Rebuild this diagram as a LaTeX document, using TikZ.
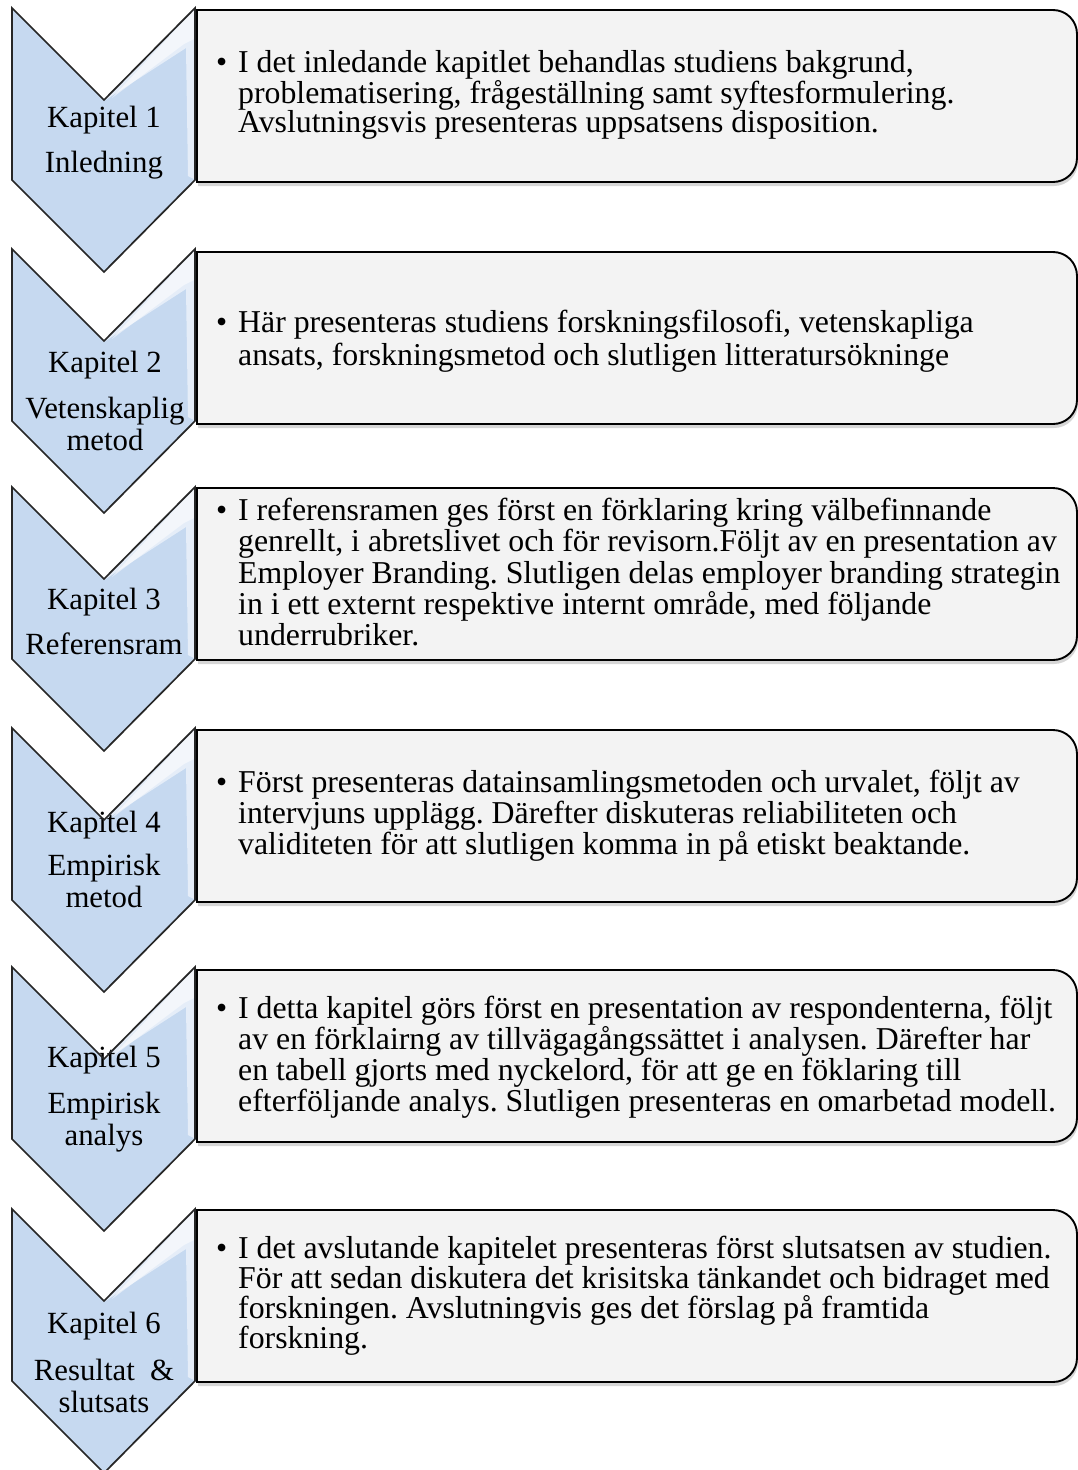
\documentclass[tikz,border=0pt]{standalone}
\usepackage{fontspec}
\setmainfont{Liberation Serif}
\frenchspacing
\definecolor{chevfill}{RGB}{198,217,240}
\definecolor{boxfill}{RGB}{243,243,243}
\tikzset{
  chevbody/.style={fill=chevfill},
  chevgloss/.style={fill=white, fill opacity=0.55},
  chevline/.style={draw=black!85, line width=1.7pt, line join=miter},
  boxline/.style={draw=black, line width=1.9pt, fill=boxfill},
  boxshadow/.style={fill=black!45, fill opacity=0.35},
  chevtext/.style={font=\fontsize{30.8}{32}\selectfont, align=center, anchor=north, inner sep=0pt},
  boxtext/.style={align=left, anchor=north west, inner sep=0pt},
}
\newcommand{\mychevbody}[1]{%
  \fill[chevbody] (12,#1) -- (104,#1+92) -- (195,#1) -- (195,#1+172) -- (104,#1+264) -- (12,#1+172) -- cycle;
  \begin{scope}
    \clip (12,#1) -- (104,#1+92) -- (195,#1) -- (195,#1+172) -- (104,#1+264) -- (12,#1+172) -- cycle;
    \fill[chevgloss] (104,#1+93) -- (196,#1) -- (196,#1+172) -- (188,#1+168) -- (186,#1+40) -- cycle;
    \fill[chevgloss] (112,#1+90) -- (196,#1) -- (196,#1+30) -- (184,#1+36) -- cycle;
  \end{scope}}
\newcommand{\mychevline}[1]{%
  \draw[chevline] (12,#1) -- (104,#1+92) -- (195,#1) -- (195,#1+172) -- (104,#1+264) -- (12,#1+172) -- cycle;}
\newcommand{\myboxshape}[1]{%
  \fill[boxshadow, xshift=1pt, yshift=-4pt] (197,#1) -- (1053,#1) .. controls (1066.3,#1) and (1077,#1+10.7) .. (1077,#1+24) -- (1077,#1+148) .. controls (1077,#1+161.3) and (1066.3,#1+172) .. (1053,#1+172) -- (197,#1+172) -- cycle;
  \draw[boxline] (197,#1) -- (1053,#1) .. controls (1066.3,#1) and (1077,#1+10.7) .. (1077,#1+24) -- (1077,#1+148) .. controls (1077,#1+161.3) and (1066.3,#1+172) .. (1053,#1+172) -- (197,#1+172) -- cycle;}
\newcommand{\bul}{\makebox[22pt][l]{\textbullet}}
\newcommand{\ind}{\hspace*{22pt}}
\begin{document}
\begin{tikzpicture}[x=1pt, y=-1pt]
\useasboundingbox[fill=white] (0,0) rectangle (1078,1470);

% chevron bodies
\mychevbody{8}
\mychevbody{249}
\mychevbody{487}
\mychevbody{728}
\mychevbody{967}
\mychevbody{1209}

% chevron labels
\node[chevtext] (c1) at (104,127-21) {Kapitel 1\\[13pt]Inledning};
\node[chevtext] (c2) at (105,372-21) {Kapitel 2\\[14pt]Vetenskaplig\\metod};
\node[chevtext] (c3) at (104,609-21) {Kapitel 3\\[13pt]Referensram};
\node[chevtext] (c4) at (104,832-21) {Kapitel 4\\[11pt]Empirisk\\metod};
\node[chevtext] (c5) at (104,1067-21) {Kapitel 5\\[14pt]Empirisk\\analys};
\node[chevtext] (c6) at (104,1333-21) {Kapitel 6\\[15pt]Resultat\ \ \&\\slutsats};

% chevron outlines
\mychevline{8}
\mychevline{249}
\mychevline{487}
\mychevline{728}
\mychevline{967}
\mychevline{1209}

% boxes
\myboxshape{10}
\myboxshape{252}
\myboxshape{488}
\myboxshape{730}
\myboxshape{970}
\myboxshape{1210}

% box texts
\node[boxtext, font=\fontsize{31.8}{29}\selectfont] (t1) at (216,72-22) {%
\bul I det inledande kapitlet behandlas studiens bakgrund,\\
\ind problematisering, frågeställning samt syftesformulering.\\
\ind Avslutningsvis presenteras uppsatsens disposition.};

\node[boxtext, font=\fontsize{31.8}{33}\selectfont] (t2) at (216,332-22) {%
\bul Här presenteras studiens forskningsfilosofi, vetenskapliga\\
\ind ansats, forskningsmetod och slutligen litteratursökninge};

\node[boxtext, font=\fontsize{31.8}{31.25}\selectfont] (t3) at (216,520-22) {%
\bul I referensramen ges först en förklaring kring välbefinnande\\
\ind genrellt, i abretslivet och för revisorn.Följt av en presentation av\\
\ind Employer Branding. Slutligen delas employer branding strategin\\
\ind in i ett externt respektive internt område, med följande\\
\ind underrubriker.};

\node[boxtext, font=\fontsize{31.8}{31}\selectfont] (t4) at (216,792-22) {%
\bul Först presenteras datainsamlingsmetoden och urvalet, följt av\\
\ind intervjuns upplägg. Därefter diskuteras reliabiliteten och\\
\ind validiteten för att slutligen komma in på etiskt beaktande.};

\node[boxtext, font=\fontsize{31.8}{31}\selectfont] (t5) at (216,1018-22) {%
\bul I detta kapitel görs först en presentation av respondenterna, följt\\
\ind av en förklairng av tillvägagångssättet i analysen. Därefter har\\
\ind en tabell gjorts med nyckelord, för att ge en föklaring till\\
\ind efterföljande analys. Slutligen presenteras en omarbetad modell.};

\node[boxtext, font=\fontsize{31.8}{30}\selectfont] (t6) at (216,1258-22) {%
\bul I det avslutande kapitelet presenteras först slutsatsen av studien.\\
\ind För att sedan diskutera det krisitska tänkandet och bidraget med\\
\ind forskningen. Avslutningvis ges det förslag på framtida\\
\ind forskning.};
\end{tikzpicture}
\end{document}
